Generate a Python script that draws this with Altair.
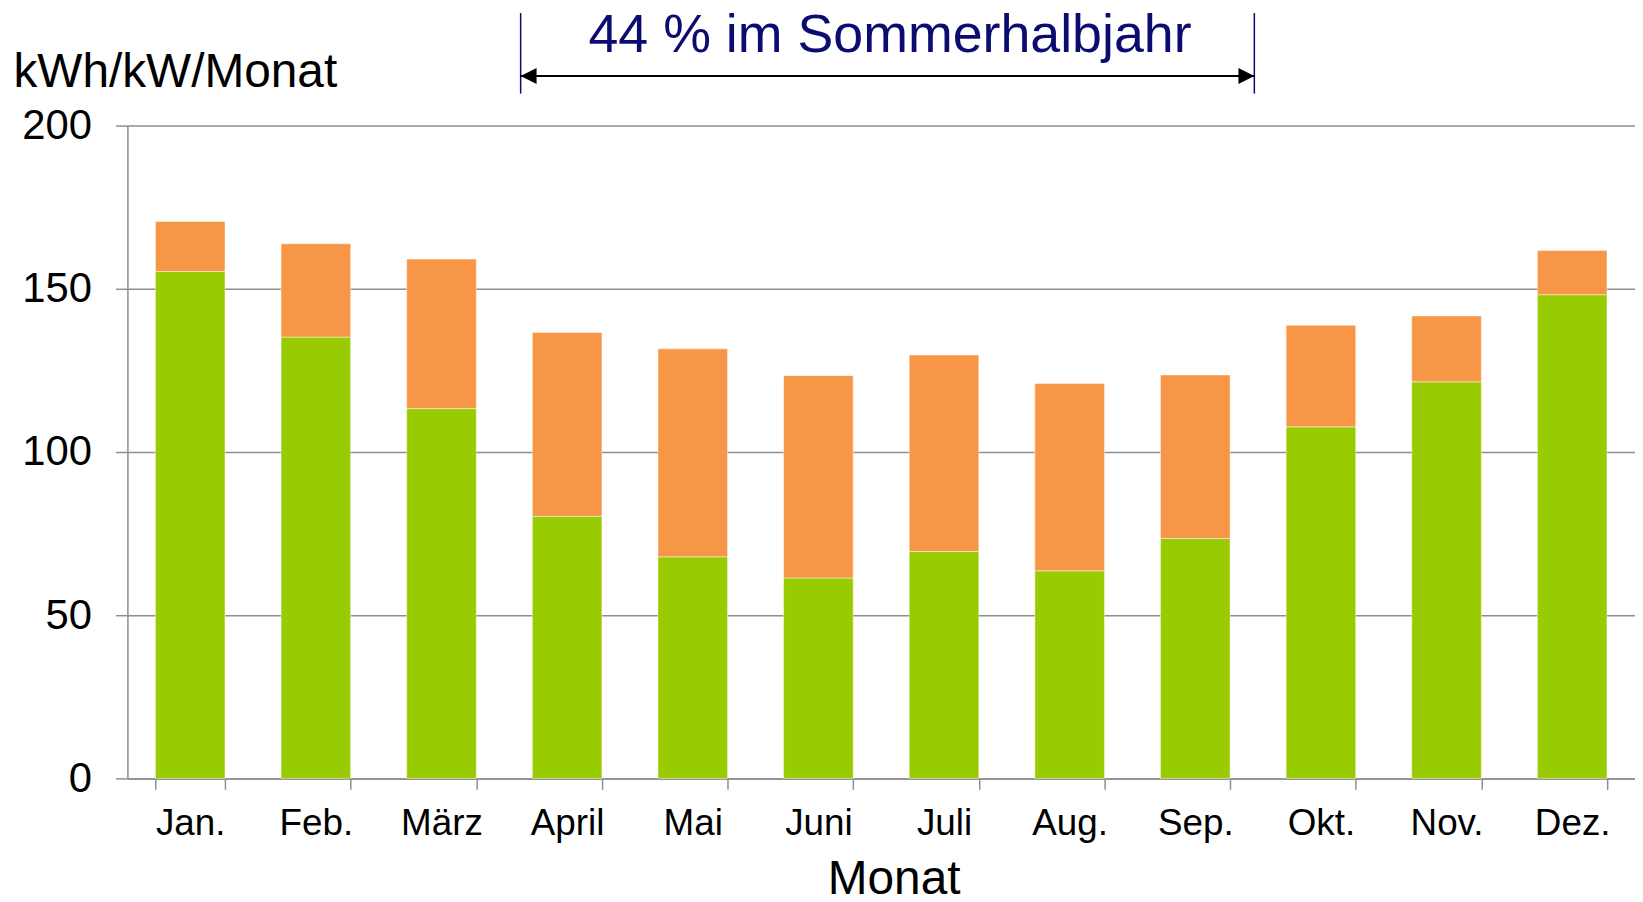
import altair as alt
import pandas as pd

# ---- data ----
months = ["Jan.", "Feb.", "März", "April", "Mai", "Juni",
          "Juli", "Aug.", "Sep.", "Okt.", "Nov.", "Dez."]
green_part = [155.3, 135.2, 113.3, 80.3, 67.9, 61.4,
              69.5, 63.6, 73.5, 107.7, 121.5, 148.2]
orange_part = [15.3, 28.6, 45.8, 56.3, 63.7, 62.0,
               60.2, 57.4, 50.1, 31.1, 20.2, 13.5]
y_ticks = [0, 50, 100, 150, 200]

series_names = ["grün", "orange"]
series_colors = ["#99CC00", "#F79646"]

rows = []
for m, g, o in zip(months, green_part, orange_part):
    rows.append({"Monat": m, "Serie": "grün", "Wert": g, "ord": 0})
    rows.append({"Monat": m, "Serie": "orange", "Wert": o, "ord": 1})
df = pd.DataFrame(rows)

# annotation (span April..September, in month-step units)
ann_left = 3.13
ann_right = 8.97
ann_mid = 6.07
ann_text = "44 % im Sommerhalbjahr"
navy = "#0C0C70"

FONT = "Liberation Sans"
W, H = 1515, 656

bars = alt.Chart(df).mark_bar(
    stroke="#ffffff", strokeWidth=1, strokeOpacity=0.45
).encode(
    x=alt.X(
        "Monat:N", sort=months, title="Monat",
        scale=alt.Scale(paddingInner=0.446, paddingOuter=0.223),
        axis=alt.Axis(
            labelAngle=0, labelFontSize=37, labelFont=FONT, labelColor="#000000",
            labelBaseline="alphabetic", labelPadding=45,
            tickBand="extent", tickSize=11, tickColor="#8e8e8e", tickWidth=1.5,
            domainColor="#8e8e8e", domainWidth=1.5, grid=False,
            titleFontSize=48, titleFont=FONT, titleFontWeight="normal",
            titleColor="#000000", titleBaseline="alphabetic",
            titleAlign="center", titleX=770, titleY=116,
        ),
    ),
    y=alt.Y(
        "Wert:Q", stack="zero", title="kWh/kW/Monat",
        scale=alt.Scale(domain=[0, 200], nice=False),
        axis=alt.Axis(
            values=y_ticks, labelFontSize=42, labelFont=FONT, labelColor="#000000",
            labelPadding=24, tickSize=12, tickColor="#8e8e8e", tickWidth=1.5,
            domainColor="#8e8e8e", domainWidth=1.5,
            grid=True, gridColor="#8e8e8e", gridWidth=1.5,
            titleAngle=0, titleAlign="left", titleBaseline="alphabetic",
            titleX=-115, titleY=-39, titleFontSize=48, titleFont=FONT,
            titleFontWeight="normal", titleColor="#000000",
        ),
    ),
    color=alt.Color("Serie:N", scale=alt.Scale(domain=series_names, range=series_colors),
                    legend=None),
    order=alt.Order("ord:Q"),
)

ann_df = pd.DataFrame({"xl": [ann_left], "xr": [ann_right],
                       "xm": [ann_mid], "txt": [ann_text]})
xs = alt.Scale(domain=[0, 12], nice=False, zero=False)

vlines = alt.Chart(pd.DataFrame({"x": [ann_left, ann_right]})).mark_rule(
    color=navy, strokeWidth=1.5, clip=False
).encode(
    x=alt.X("x:Q", scale=xs, axis=None),
    y=alt.datum(234.5), y2=alt.datum(209.8),
)

arrow_line = alt.Chart(ann_df).mark_rule(color="#000000", strokeWidth=2.2, clip=False).encode(
    x=alt.X("xl:Q", scale=xs, axis=None), x2="xr:Q", y=alt.datum(215.2),
)

head_l = alt.Chart(ann_df).mark_point(
    shape="M0,0L2,-1L2,1Z", filled=True, size=256, color="#000000", opacity=1, clip=False
).encode(x=alt.X("xl:Q", scale=xs, axis=None), y=alt.datum(215.2))

head_r = alt.Chart(ann_df).mark_point(
    shape="M0,0L-2,-1L-2,1Z", filled=True, size=256, color="#000000", opacity=1, clip=False
).encode(x=alt.X("xr:Q", scale=xs, axis=None), y=alt.datum(215.2))

label = alt.Chart(ann_df).mark_text(
    fontSize=54, font=FONT, color=navy, align="center", baseline="alphabetic", clip=False
).encode(x=alt.X("xm:Q", scale=xs, axis=None), y=alt.datum(222.5), text="txt:N")

overlay = alt.layer(vlines, arrow_line, head_l, head_r, label)

chart = alt.layer(bars, overlay).resolve_scale(x="independent").properties(
    width=W, height=H,
    background="#ffffff",
    autosize=alt.AutoSizeParams(type="none"),
    padding={"left": 120, "top": 116, "right": 0, "bottom": 118},
).configure_view(stroke=None)

chart.save("out.html", embed_options={"renderer": "svg", "actions": False})
